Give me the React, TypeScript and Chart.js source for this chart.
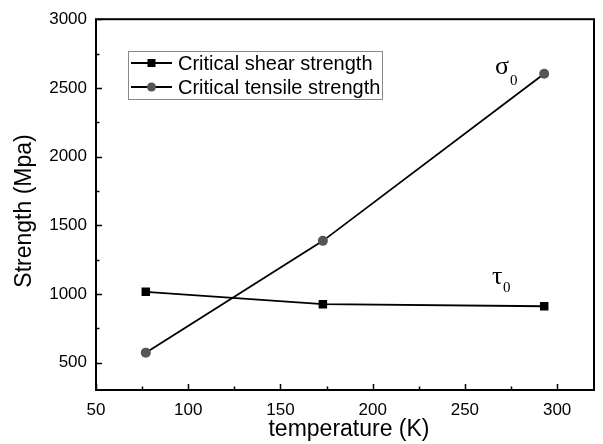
import React, { useEffect, useRef } from "react";
import { Chart, registerables } from "chart.js";

Chart.register(...registerables);

const temperatures = [77, 173, 293];
const shearStrength = [1015, 925, 910];
const tensileStrength = [572, 1386, 2603];
const seriesLabels = ["Critical shear strength", "Critical tensile strength"];
const xTitle = "temperature (K)";
const yTitle = "Strength (Mpa)";
const xMajor = [50, 100, 150, 200, 250, 300];
const xMinor = [75, 125, 175, 225, 275];
const yMajor = [500, 1000, 1500, 2000, 2500, 3000];
const yMinor = [750, 1250, 1750, 2250, 2750];

const SANS = "'Liberation Sans', Arial, sans-serif";
const SERIF = "'Liberation Serif', 'Times New Roman', serif";

const decorPlugin = {
  id: "decor",
  afterDatasetsDraw(chart: any) {
    const { ctx, chartArea: a, scales } = chart;
    const xs = scales.x;
    const ys = scales.y;
    ctx.save();
    // frame
    ctx.strokeStyle = "#000";
    ctx.lineWidth = 2;
    ctx.strokeRect(a.left, a.top, a.right - a.left, a.bottom - a.top);
    // ticks inward
    ctx.lineWidth = 1.5;
    ctx.beginPath();
    xMajor.forEach((v) => {
      const p = Math.round(xs.getPixelForValue(v)) + 0.5;
      ctx.moveTo(p, a.bottom);
      ctx.lineTo(p, a.bottom - 6);
    });
    xMinor.forEach((v) => {
      const p = Math.round(xs.getPixelForValue(v)) + 0.5;
      ctx.moveTo(p, a.bottom);
      ctx.lineTo(p, a.bottom - 3.5);
    });
    yMajor.forEach((v) => {
      const p = Math.round(ys.getPixelForValue(v)) + 0.5;
      ctx.moveTo(a.left, p);
      ctx.lineTo(a.left + 6, p);
    });
    yMinor.forEach((v) => {
      const p = Math.round(ys.getPixelForValue(v)) + 0.5;
      ctx.moveTo(a.left, p);
      ctx.lineTo(a.left + 3.5, p);
    });
    ctx.stroke();

    // axis titles
    ctx.fillStyle = "#000";
    ctx.font = `23px ${SANS}`;
    ctx.textAlign = "center";
    ctx.textBaseline = "middle";
    ctx.fillText(xTitle, 349, 430);
    ctx.save();
    ctx.translate(25, 211);
    ctx.rotate(-Math.PI / 2);
    ctx.fillText(yTitle, 0, 0);
    ctx.restore();

    // legend
    ctx.strokeStyle = "#888";
    ctx.lineWidth = 1;
    ctx.strokeRect(128.5, 51.5, 254, 48);
    const rows = [63, 87];
    rows.forEach((y, i) => {
      ctx.strokeStyle = "#000";
      ctx.lineWidth = 1.8;
      ctx.beginPath();
      ctx.moveTo(131, y);
      ctx.lineTo(172, y);
      ctx.stroke();
      if (i === 0) {
        ctx.fillStyle = "#000";
        ctx.fillRect(147.5, y - 4, 8, 8);
      } else {
        ctx.fillStyle = "#555";
        ctx.beginPath();
        ctx.arc(151.5, y, 4.5, 0, Math.PI * 2);
        ctx.fill();
      }
      ctx.fillStyle = "#000";
      ctx.font = `20px ${SANS}`;
      ctx.textAlign = "left";
      ctx.textBaseline = "middle";
      ctx.fillText(seriesLabels[i], 178, y + 1);
    });

    // annotations
    ctx.textAlign = "left";
    ctx.textBaseline = "alphabetic";
    ctx.font = `26px ${SERIF}`;
    ctx.fillText("\u03c3", 495, 74);
    ctx.fillText("\u03c4", 492, 284);
    ctx.font = `15px ${SERIF}`;
    ctx.fillText("0", 510, 85);
    ctx.fillText("0", 503, 292);
    ctx.restore();
  },
};

export default function App() {
  const ref = useRef<HTMLCanvasElement | null>(null);
  useEffect(() => {
    document.body.style.margin = "0";
    const canvas = ref.current;
    if (!canvas) return;
    const chart = new Chart(canvas, {
      type: "line",
      data: {
        datasets: [
          {
            label: seriesLabels[0],
            data: temperatures.map((t, i) => ({ x: t, y: shearStrength[i] })),
            borderColor: "#000",
            borderWidth: 1.8,
            pointStyle: "rect",
            pointRadius: 6,
            pointBackgroundColor: "#000",
            pointBorderColor: "#000",
            pointBorderWidth: 0,
          },
          {
            label: seriesLabels[1],
            data: temperatures.map((t, i) => ({ x: t, y: tensileStrength[i] })),
            borderColor: "#000",
            borderWidth: 1.8,
            pointStyle: "circle",
            pointRadius: 5,
            pointBackgroundColor: "#555",
            pointBorderColor: "#555",
            pointBorderWidth: 0,
          },
        ],
      },
      options: {
        animation: false,
        responsive: false,
        devicePixelRatio: 1,
        layout: { padding: { top: 17, right: 9, left: 0, bottom: 0 } },
        plugins: { legend: { display: false }, tooltip: { enabled: false } },
        scales: {
          x: {
            type: "linear",
            min: 50,
            max: 320,
            grid: { display: false, drawTicks: false },
            border: { display: false },
            ticks: {
              padding: 10,
              color: "#000",
              font: { family: SANS, size: 17 },
              maxRotation: 0,
              autoSkip: false,
              callback: (v: any) => String(v),
            },
            afterBuildTicks: (s: any) => {
              s.ticks = xMajor.map((v) => ({ value: v }));
            },
            afterFit: (s: any) => {
              s.height = 54;
            },
          },
          y: {
            type: "linear",
            min: 300,
            max: 3000,
            grid: { display: false, drawTicks: false },
            border: { display: false },
            ticks: {
              padding: 9,
              color: "#000",
              font: { family: SANS, size: 17 },
              autoSkip: false,
              callback: (v: any) => String(v),
            },
            afterBuildTicks: (s: any) => {
              s.ticks = yMajor.map((v) => ({ value: v }));
            },
            afterFit: (s: any) => {
              s.width = 96;
            },
          },
        },
      },
      plugins: [decorPlugin],
    });
    return () => chart.destroy();
  }, []);
  return <canvas ref={ref} width={603} height={444} style={{ display: "block" }} />;
}
